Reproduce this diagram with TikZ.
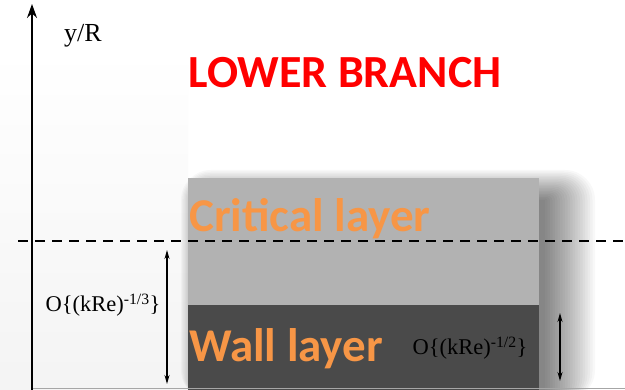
\documentclass[tikz,border=0pt]{standalone}
\usepackage{fontspec}
\setmainfont{Liberation Serif}
\newfontfamily\calib{Carlito}
\usetikzlibrary{arrows.meta}
\definecolor{lightbox}{HTML}{B2B2B2}
\definecolor{darkbox}{HTML}{4A4A4A}
\definecolor{layerorange}{HTML}{F79646}
\tikzset{
  x=1pt,y=-1pt,
  dimarrow/.style={line width=1.2pt,{Stealth[length=9pt,width=5pt]}-{Stealth[length=9pt,width=5pt]}},
  layertext/.style={text=layerorange,font=\calib\bfseries\fontsize{47}{47}\selectfont,anchor=base west,inner sep=0pt},
  mathlabel/.style={font=\fontsize{22.5}{22.5}\selectfont,inner sep=0pt},
  shadowlayer/.style={fill=black,opacity=0.026,draw=none}
}
\begin{document}
\begin{tikzpicture}
\useasboundingbox (0,0) rectangle (625,390);
\fill[white] (0,0) rectangle (625,390);
% faint shade left
\shade[top color=white,bottom color=gray!9,draw=none] (0,50) rectangle (188,390);
\fill[white] (40,0) rectangle (112,56);
% soft shadow of the boxes
\foreach \i in {0,...,20}{
  \fill[shadowlayer,rounded corners=\i*1.5pt] (205-\i*1.2,200-\i*1.5) rectangle (545+\i*2.5,400);
}
% boxes
\node[draw=none,fill=lightbox,minimum width=351pt,minimum height=127pt,inner sep=0pt,anchor=north west] (crit) at (188,178) {};
\node[draw=none,fill=darkbox,minimum width=351pt,minimum height=85pt,inner sep=0pt,anchor=north west] (wall) at (188,305) {};
% bottom line
\draw[gray!70,line width=1pt] (32,388.5) -- (625,388.5);
% axis
\coordinate (ax0) at (32,390);
\coordinate (ax1) at (32,4);
\draw[line width=1.3pt,-{Stealth[length=14pt,width=10pt]}] (ax0) -- (ax1);
\node[font=\fontsize{26}{26}\selectfont,inner sep=0pt,anchor=base] (ylab) at (83,42) {y/R};
% dashed line
\coordinate (d0) at (18,241);
\coordinate (d1) at (625,241);
\draw[line width=1.6pt,dash pattern=on 10pt off 7pt] (d0) -- (d1);
% title
\node[text=red,font=\calib\bfseries\fontsize{46}{46}\selectfont,inner sep=0pt,anchor=base] (title) at (345,88) {LOWER BRANCH};
% layer texts
\node[layertext] (crittxt) at (189,232) {Critical layer};
\node[layertext] (walltxt) at (189,362) {Wall layer};
% left dimension
\coordinate (la) at (167,250);
\coordinate (lb) at (167,384);
\draw[dimarrow] (la) -- (lb);
\node[mathlabel,anchor=base] (l13) at (103,312) {O\{(kRe)\textsuperscript{-1/3}\}};
% right dimension
\coordinate (ra) at (560,313);
\coordinate (rb) at (560,381);
\draw[dimarrow] (ra) -- (rb);
\node[mathlabel,anchor=base] (l12) at (470,355) {O\{(kRe)\textsuperscript{-1/2}\}};
\end{tikzpicture}
\end{document}
